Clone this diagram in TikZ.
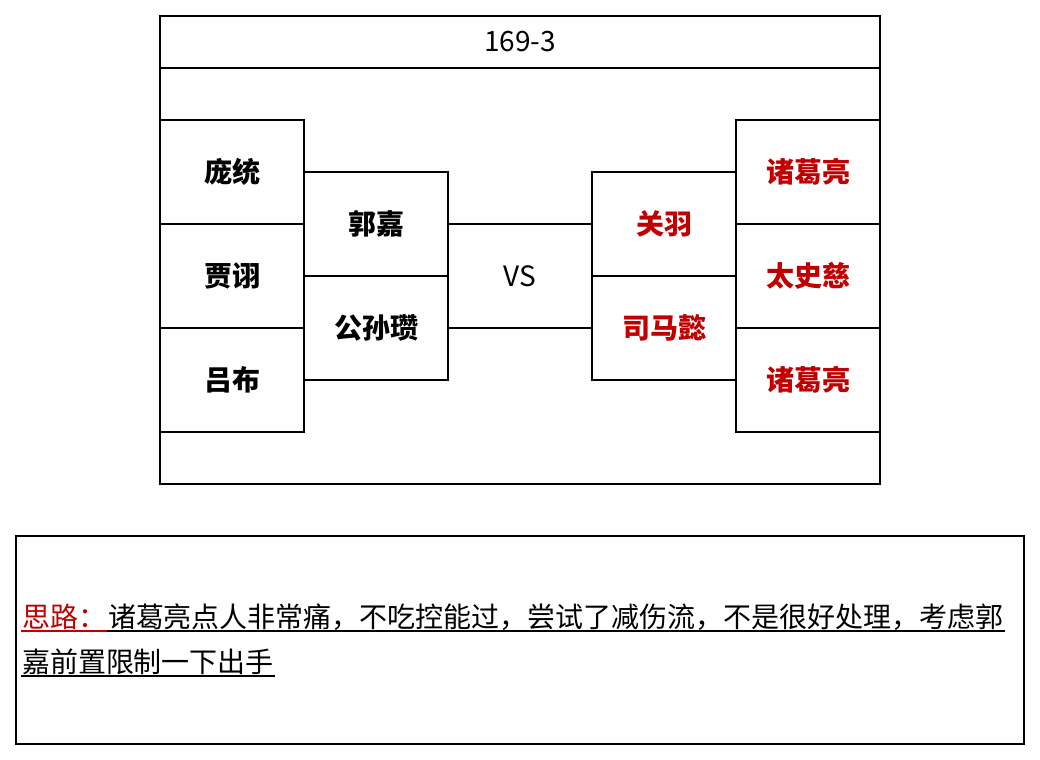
\documentclass[tikz,border=0pt]{standalone}
\usepackage{fontspec}
\setmainfont{Noto Sans CJK SC}
\definecolor{hero}{HTML}{C00000}
\begin{document}
\begin{tikzpicture}[x=0.75pt,y=-0.75pt,
  line width=1.5pt,
  txt/.style={font=\fontsize{21pt}{25pt}\selectfont},
  cell/.style={draw=black, line width=1.5pt, minimum width=108pt, minimum height=78pt, inner sep=0pt,
    font=\fontsize{21pt}{25pt}\selectfont\bfseries},
  redcell/.style={cell, text=hero},
  link/.style={draw=black, line width=1.5pt}
]
\useasboundingbox (0,0) rectangle (1040,760);
% frame
\draw (160,68) rectangle (880,484);
\node[draw, line width=1.5pt, minimum width=540pt, minimum height=39pt, inner sep=0pt, txt] (title) at (520,42) {169-3};
% left side
\node[cell] (pt) at (232,172) {庞统};
\node[cell] (jx) at (232,276) {贾诩};
\node[cell] (lb) at (232,380) {吕布};
\node[cell] (gj) at (376,224) {郭嘉};
\node[cell] (gs) at (376,328) {公孙瓒};
% right side
\node[redcell] (gy) at (664,224) {关羽};
\node[redcell] (sm) at (664,328) {司马懿};
\node[redcell] (zg1) at (808,172) {诸葛亮};
\node[redcell] (ts) at (808,276) {太史慈};
\node[redcell] (zg2) at (808,380) {诸葛亮};
\node[txt, inner sep=0pt] (vs) at (520,276) {VS};
\draw[link] (gj.east) -- (gy.west);
\draw[link] (gs.east) -- (sm.west);
% note box
\draw (16,536) rectangle (1024,744);
\node[txt, text=hero, anchor=base west, inner sep=0pt] (n1) at (21,627) {思路：};
\node[txt, anchor=base west, inner sep=0pt] (n2) at (n1.base east) {诸葛亮点人非常痛，不吃控能过，尝试了减伤流，不是很好处理，考虑郭};
\node[txt, anchor=base west, inner sep=0pt] (n3) at (21,672) {嘉前置限制一下出手};
\draw[hero, line width=1.2pt] ([yshift=-3pt]n1.base west) -- ([yshift=-3pt]n1.base east);
\draw[black, line width=1.2pt] ([yshift=-3pt]n2.base west) -- ([yshift=-3pt]n2.base east);
\draw[black, line width=1.2pt] ([yshift=-3pt]n3.base west) -- ([yshift=-3pt]n3.base east);
\end{tikzpicture}
\end{document}
